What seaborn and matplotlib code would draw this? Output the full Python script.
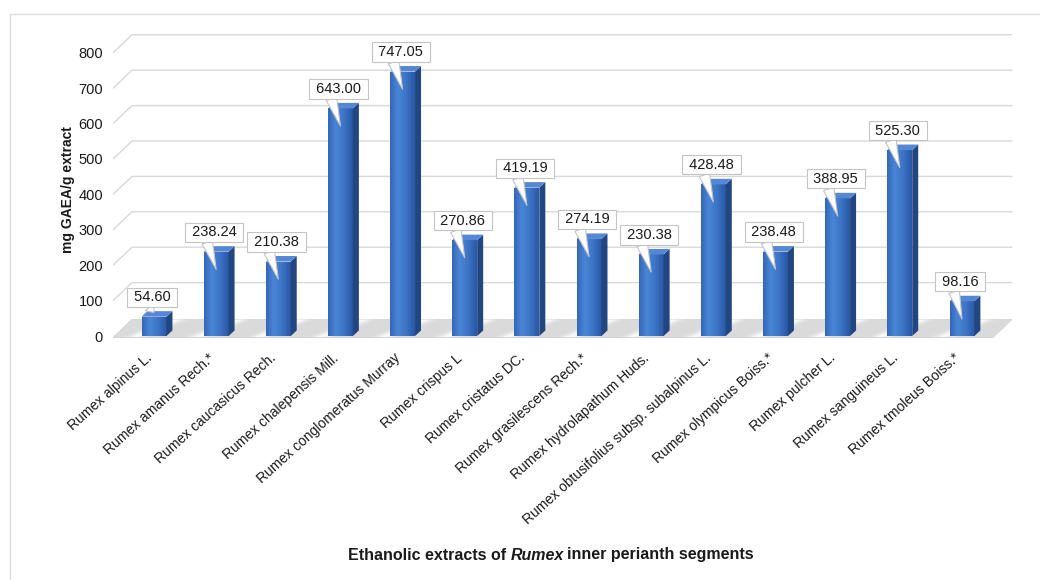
import numpy as np
import pandas as pd
import matplotlib
matplotlib.use("Agg")
import matplotlib.pyplot as plt
import matplotlib.transforms as mtransforms
from matplotlib.patches import Polygon
from matplotlib.lines import Line2D
from matplotlib.colors import LinearSegmentedColormap
import seaborn as sns

# ---- data -------------------------------------------------------------
species = [
    "Rumex alpinus L.",
    "Rumex amanus Rech.*",
    "Rumex caucasicus Rech.",
    "Rumex chalepensis Mill.",
    "Rumex conglomeratus Murray",
    "Rumex crispus L",
    "Rumex cristatus DC.",
    "Rumex grasilescens Rech.*",
    "Rumex hydrolapathum Huds.",
    "Rumex obtusifolius subsp. subalpinus L.",
    "Rumex olympicus Boiss.*",
    "Rumex pulcher L.",
    "Rumex sanguineus L.",
    "Rumex tmoleus Boiss.*",
]
gaea = [54.60, 238.24, 210.38, 643.00, 747.05, 270.86, 419.19,
        274.19, 230.38, 428.48, 238.48, 388.95, 525.30, 98.16]
y_ticks = [0, 100, 200, 300, 400, 500, 600, 700, 800]

# ---- style ------------------------------------------------------------
sns.set_theme(style="white")
plt.rcParams["font.family"] = ["Liberation Sans", "DejaVu Sans"]
TEXT = "#1a1a1a"
GRID = "#d9d9d9"

W, H = 1040, 580
fig = plt.figure(figsize=(W / 100, H / 100), dpi=100)
ax_l, ax_r, ax_t, ax_b = 113, 1015, 30, 345
ax = fig.add_axes([ax_l / W, 1 - ax_b / H, (ax_r - ax_l) / W, (ax_b - ax_t) / H])

df = pd.DataFrame({"species": species, "gaea": gaea})
sns.barplot(data=df, x="species", y="gaea", width=0.4, color="#3a72c4",
            saturation=1, linewidth=0, ax=ax, zorder=3)
bars = list(ax.patches)

# axis limits (category units / value units)
px_per_cat = 62.15
px_per_val = 0.354
xmin = (ax_l - 154) / px_per_cat
xmax = (ax_r - 154) / px_per_cat
ymin = -(ax_b - 336) / px_per_val
ymax = (336 - ax_t) / px_per_val

# pseudo-3D depth of the plot box and of each bar
depth_dx = 19 / px_per_cat
depth_dy = 18 / px_per_val
bar_dx = 6 / px_per_cat
bar_dy = 5.5 / px_per_val
x_back_end = (1012 - 154) / px_per_cat

# back-wall gridlines with the slanted left return
for v in y_ticks[1:]:
    ax.add_line(Line2D([xmin, xmin + depth_dx, x_back_end],
                       [v, v + depth_dy, v + depth_dy],
                       color=GRID, lw=1.0, zorder=1))

# floor with light diagonal sheen
fy0 = -4
floor = Polygon([(xmin, fy0), (xmin + depth_dx, fy0 + depth_dy),
                 (x_back_end, fy0 + depth_dy), (x_back_end - depth_dx, fy0)],
                closed=True, facecolor="#d8d8d8", edgecolor="#d0d0d0",
                lw=0.6, zorder=2)
ax.add_patch(floor)
gx = np.linspace(xmin, x_back_end, 1200)
gy = np.linspace(fy0, fy0 + depth_dy, 40)
GX, GY = np.meshgrid(gx, gy)
tdep = (GY - fy0) / depth_dy
u = GX - tdep * depth_dx * 2.2
frac = np.mod(u - 0.2, 1.0)
shade = 0.35 + 0.65 * np.exp(-((frac - 0.5) / 0.13) ** 2)
floor_cmap = LinearSegmentedColormap.from_list("floor", ["#c9c9c9", "#fafafa"])
fim = ax.imshow(shade, cmap=floor_cmap, origin="lower", aspect="auto",
                vmin=0, vmax=1,
                extent=[xmin, x_back_end, fy0, fy0 + depth_dy],
                interpolation="bilinear", zorder=2.1)
fim.set_clip_path(floor)

# bars: shaded front face, dark side face, light top face
front_cmap = LinearSegmentedColormap.from_list(
    "front", [(0, "#3466b8"), (0.3, "#4a86d6"), (0.65, "#3c74c6"), (1, "#2a57a3")])
for p in bars:
    x, w, h = p.get_x(), p.get_width(), p.get_height()
    im = ax.imshow(np.linspace(0, 1, 64)[None, :], cmap=front_cmap,
                   origin="lower", aspect="auto", extent=[x, x + w, 0, h],
                   interpolation="bilinear", zorder=3.1)
    im.set_clip_path(p)
    ax.add_patch(Polygon([(x + w, 0), (x + w + bar_dx, bar_dy),
                          (x + w + bar_dx, h + bar_dy), (x + w, h)],
                         closed=True, facecolor="#22467f", edgecolor="none",
                         zorder=3.2))
    ax.add_patch(Polygon([(x, h), (x + bar_dx, h + bar_dy),
                          (x + w + bar_dx, h + bar_dy), (x + w, h)],
                         closed=True, facecolor="#5587d4", edgecolor="none",
                         zorder=3.2))

# value callouts
for i, v in enumerate(gaea):
    tip = v - 50 if v > 80 else v + 12
    ax.annotate(f" {v:.2f} ", xy=(i, tip), xytext=(i - 0.03, v + 55),
                ha="center", va="center", fontsize=10.5, color=TEXT,
                bbox=dict(boxstyle="square,pad=0.18", fc="white",
                          ec="#c4c4c4", lw=0.8),
                arrowprops=dict(arrowstyle="wedge,tail_width=0.75",
                                fc="white", ec="#c4c4c4", lw=0.8,
                                shrinkA=0, shrinkB=0, relpos=(0.33, 0.2)),
                zorder=6)

# axes, ticks and labels
ax.set_xlim(xmin, xmax)
ax.set_ylim(ymin, ymax)
for s in ax.spines.values():
    s.set_visible(False)
ax.set_yticks(y_ticks)
ax.set_yticklabels([str(t) for t in y_ticks])
ax.tick_params(axis="y", length=0, pad=7.2, labelsize=10.5, labelcolor=TEXT)
ax.set_xticks(range(len(species)))
ax.set_xticklabels(species, rotation=42, ha="right", va="center",
                   rotation_mode="anchor")
ax.tick_params(axis="x", length=0, pad=8, labelsize=10, labelcolor=TEXT)
shift = mtransforms.ScaledTranslation(-4 / 100, 0, fig.dpi_scale_trans)
for lab in ax.get_xticklabels():
    lab.set_transform(lab.get_transform() + shift)
ax.set_xlabel("")
ax.set_ylabel("mg GAEA/g extract", fontsize=10, fontweight="bold",
              color=TEXT, va="center")
ax.yaxis.set_label_coords((68 - ax_l) / (ax_r - ax_l), (ax_b - 190) / (ax_b - ax_t))
ax.grid(False)

# x-axis title with the genus name in italics
fig.canvas.draw()
renderer = fig.canvas.get_renderer()
title_size = 11.5
parts = [("Ethanolic extracts of", "normal"), ("Rumex", "italic"),
         ("inner perianth segments", "normal")]
texts = [fig.text(0, 0, s, fontsize=title_size, fontweight="bold", fontstyle=st,
                  color=TEXT, va="center", ha="left") for s, st in parts]
probe_a = fig.text(0, 0, "aa", fontsize=title_size, fontweight="bold")
probe_b = fig.text(0, 0, "a a", fontsize=title_size, fontweight="bold")
space_w = (probe_b.get_window_extent(renderer).width
           - probe_a.get_window_extent(renderer).width)
probe_a.remove()
probe_b.remove()
widths = [t.get_window_extent(renderer).width for t in texts]
gaps = [space_w, space_w - 2, 0]
total = sum(widths) + gaps[0] + gaps[1]
x_cur = 551 - total / 2
for t, wd, g in zip(texts, widths, gaps):
    t.set_position((x_cur / W, 1 - 555 / H))
    x_cur += wd + g

# thin frame at top and left
fig.add_artist(Line2D([10 / W, 1], [1 - 14 / H, 1 - 14 / H], color="#dddddd", lw=1))
fig.add_artist(Line2D([10 / W, 10 / W], [0, 1 - 14 / H], color="#dddddd", lw=1))

fig.savefig("out.png", dpi=100)
